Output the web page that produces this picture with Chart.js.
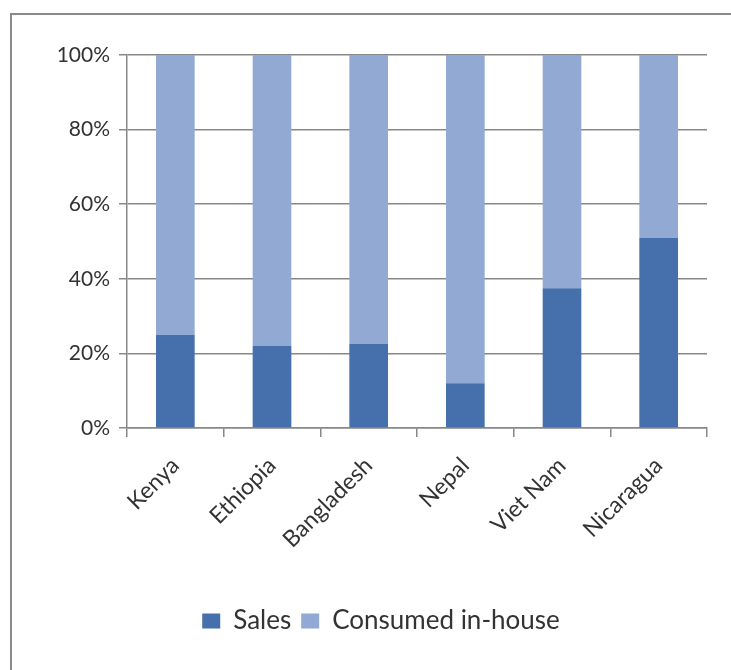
<!DOCTYPE html>
<html>
<head>
<meta charset="utf-8">
<script src="https://cdn.jsdelivr.net/npm/chart.js@4/dist/chart.umd.min.js"></script>
<style>
  html, body { margin: 0; padding: 0; background: #fff; overflow: hidden; }
  #frame { position: absolute; left: 10px; top: 13px; width: 800px; height: 720px;
           border-top: 2px solid #8a8a8a; border-left: 2px solid #8a8a8a; }
  #wrap { position: absolute; left: 0; top: 0; width: 731px; height: 670px; }
</style>
</head>
<body>
<div id="frame"></div>
<div id="wrap"><canvas id="shareChart"></canvas></div>
<script>
// Share of production sold vs consumed in-house, by country
const countries = ['Kenya', 'Ethiopia', 'Bangladesh', 'Nepal', 'Viet Nam', 'Nicaragua'];
const salesShare = [25, 22, 22.5, 12, 37.5, 51];
const consumedShare = [75, 78, 77.5, 88, 62.5, 49];
const yTicks = [0, 20, 40, 60, 80, 100];

const axisGray = '#888888';
const textGray = '#333333';
const fontFamily = 'Lato, "Open Sans", sans-serif';

new Chart(document.getElementById('shareChart'), {
  type: 'bar',
  data: {
    labels: countries,
    datasets: [
      { label: 'Sales', data: salesShare, backgroundColor: '#4570ac',
        barPercentage: 0.4, categoryPercentage: 1 },
      { label: 'Consumed in-house', data: consumedShare, backgroundColor: '#92a9d4',
        barPercentage: 0.4, categoryPercentage: 1 }
    ]
  },
  options: {
    responsive: true,
    maintainAspectRatio: false,
    animation: false,
    layout: { padding: { left: 55, right: 24, top: 55, bottom: 26 } },
    plugins: {
      tooltip: { enabled: false },
      legend: {
        position: 'bottom',
        labels: {
          boxWidth: 18, boxHeight: 15, padding: 10,
          color: textGray,
          font: { family: fontFamily, size: 26 }
        }
      }
    },
    scales: {
      x: {
        stacked: true,
        grid: { drawOnChartArea: false, color: axisGray, lineWidth: 1.5, tickLength: 9 },
        border: { color: axisGray, width: 1.5 },
        ticks: {
          maxRotation: 45, minRotation: 45, padding: 15,
          color: textGray,
          font: { family: fontFamily, size: 23 }
        },
        afterFit: s => { s.height = 170; }
      },
      y: {
        stacked: true,
        min: 0, max: 100,
        afterBuildTicks: s => { s.ticks = yTicks.map(v => ({ value: v })); },
        grid: { color: axisGray, lineWidth: 1.5, tickLength: 8 },
        border: { color: axisGray, width: 1.5 },
        ticks: {
          padding: 9,
          color: textGray,
          font: { family: fontFamily, size: 21 },
          callback: v => v + '%'
        },
        afterFit: s => { s.width = 72; }
      }
    }
  }
});
</script>
</body>
</html>
